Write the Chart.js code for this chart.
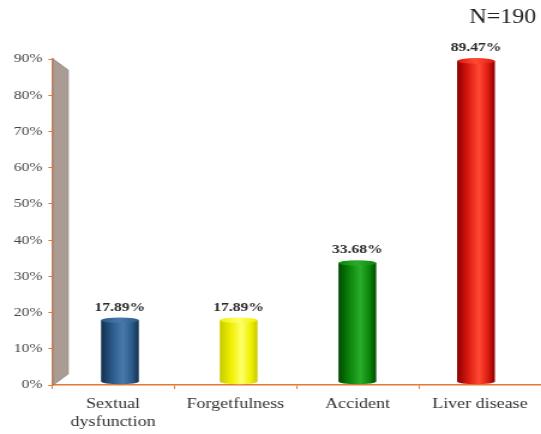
<!DOCTYPE html>
<html>
<head>
<meta charset="utf-8">
<script src="https://cdn.jsdelivr.net/npm/chart.js@4"></script>
<style>
  html, body { margin: 0; padding: 0; background: #fff; overflow: hidden; }
  /* the figure is laid out narrow and widened to its final 541px width */
  #wrap {
    width: 451px; height: 434px; position: relative;
    transform: scaleX(1.1996); transform-origin: 0 0;
  }
</style>
</head>
<body>
<div id="wrap"><canvas id="c"></canvas></div>
<script>
// Consequences reported by respondents (N=190), percent of respondents
const categories = ['Sextual|dysfunction', 'Forgetfulness', 'Accident', 'Liver disease'];
const percentValues = [17.89, 17.89, 33.68, 89.47];
const yTicks = [0, 10, 20, 30, 40, 50, 60, 70, 80, 90];
const sampleNote = 'N=190';

// cylinder shading: [edge, mid, highlight]
const barShades = [
  ['#142f4e', '#2c5b8a', '#477aab'],
  ['#c9c900', '#f0f000', '#ffff6a'],
  ['#004a00', '#0b860b', '#2aac2a'],
  ['#8a0000', '#dc1a10', '#ff4a34']
];

const SERIF = '"Liberation Serif", "Times New Roman", serif';
const ORANGE = '#e27a33';

function bodyGradient(ctx, x, w, s) {
  const x0 = x - w / 2;
  const g = ctx.createLinearGradient(x0, 0, x0 + w, 0);
  g.addColorStop(0, s[0]);
  g.addColorStop(0.3, s[1]);
  g.addColorStop(0.58, s[2]);
  g.addColorStop(0.82, s[1]);
  g.addColorStop(1, s[0]);
  return g;
}

// left wall of the 3D plot area
const wallPlugin = {
  id: 'wall',
  beforeDatasetsDraw(chart) {
    const { ctx, chartArea } = chart;
    const y = chart.scales.y;
    const top = y.getPixelForValue(yTicks[yTicks.length - 1]);
    const bot = y.getPixelForValue(0);
    const x = chartArea.left + 1;
    const depth = 12.5, drop = 11;
    ctx.save();
    ctx.beginPath();
    ctx.moveTo(x, top);
    ctx.lineTo(x + depth, top + drop);
    ctx.lineTo(x + depth, bot - drop);
    ctx.lineTo(x, bot);
    ctx.closePath();
    ctx.fillStyle = '#aa9c94';
    ctx.fill();
    ctx.strokeStyle = '#8c7e76';
    ctx.lineWidth = 0.8;
    ctx.stroke();
    ctx.restore();
  }
};

// shaded cylinder bodies, caps, value labels and the N note
const capsPlugin = {
  id: 'caps',
  afterDatasetsDraw(chart) {
    const { ctx } = chart;
    const meta = chart.getDatasetMeta(0);
    ctx.save();
    meta.data.forEach((bar, i) => {
      const s = barShades[i];
      const w = bar.width;
      const rx = w / 2, ry = 2.8;
      const base = bar.base - 3;
      // body with rounded base
      ctx.beginPath();
      ctx.moveTo(bar.x - rx, bar.y);
      ctx.lineTo(bar.x - rx, base);
      ctx.ellipse(bar.x, base, rx, ry, 0, Math.PI, 0, true);
      ctx.lineTo(bar.x + rx, bar.y);
      ctx.closePath();
      ctx.fillStyle = bodyGradient(ctx, bar.x, w, s);
      ctx.fill();
      // top cap
      ctx.beginPath();
      ctx.ellipse(bar.x, bar.y, rx, ry, 0, 0, Math.PI * 2);
      const g = ctx.createLinearGradient(bar.x - rx, 0, bar.x + rx, 0);
      g.addColorStop(0, s[1]);
      g.addColorStop(0.5, s[2]);
      g.addColorStop(1, s[1]);
      ctx.fillStyle = g;
      ctx.fill();
      // value label
      ctx.fillStyle = '#2a2a2a';
      ctx.font = 'bold 13px ' + SERIF;
      ctx.textAlign = 'center';
      ctx.textBaseline = 'middle';
      ctx.fillText(percentValues[i].toFixed(2) + '%', bar.x, bar.y - 13);
    });
    ctx.fillStyle = '#222';
    ctx.font = '20px ' + SERIF;
    ctx.textAlign = 'right';
    ctx.textBaseline = 'middle';
    ctx.fillText(sampleNote, chart.width - 4, 18);
    ctx.restore();
  }
};

new Chart(document.getElementById('c'), {
  type: 'bar',
  data: {
    labels: categories,
    datasets: [{
      data: percentValues.map((v, i) => ({ x: i, y: v })),
      xAxisID: 'xb',
      backgroundColor: 'rgba(0,0,0,0)',
      borderWidth: 0,
      barThickness: 31.5
    }]
  },
  options: {
    responsive: true,
    maintainAspectRatio: false,
    animation: false,
    events: [],
    layout: { padding: { top: 59, right: 0, left: 0, bottom: 0 } },
    plugins: { legend: { display: false }, tooltip: { enabled: false } },
    scales: {
      x: {
        type: 'category',
        labels: categories,
        offset: true,
        grid: {
          display: true, drawOnChartArea: false, drawTicks: true,
          tickLength: 4, color: ORANGE, offset: true
        },
        border: { display: true, color: ORANGE, width: 1.5 },
        ticks: {
          color: '#333',
          font: { family: SERIF, size: 15, lineHeight: 1.2 },
          padding: 6,
          maxRotation: 0,
          callback(v, i) { return categories[i].split('|'); }
        },
        afterFit(s) { s.height = 49; }
      },
      xb: {
        type: 'linear',
        display: false,
        offset: false,
        min: -0.573,
        max: 3.548
      },
      y: {
        min: 0, max: 90,
        afterBuildTicks(s) { s.ticks = yTicks.map(v => ({ value: v })); },
        grid: {
          display: true, drawOnChartArea: false, drawTicks: true,
          tickLength: 3, color: ORANGE
        },
        border: { display: true, color: ORANGE, width: 1.5 },
        ticks: {
          color: '#444',
          font: { family: SERIF, size: 13 },
          padding: 5,
          callback(v) { return v + '%'; }
        },
        afterFit(s) { s.width = 43.3; }
      }
    }
  },
  plugins: [wallPlugin, capsPlugin]
});
</script>
</body>
</html>
